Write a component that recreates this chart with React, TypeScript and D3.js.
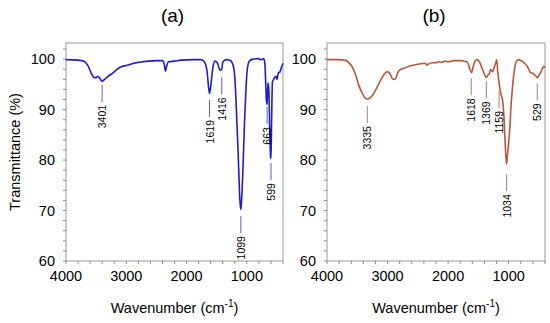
import React from 'react';
import * as d3 from 'd3';

// spectrum (a)
const waveA = [4000, 3800, 3700, 3640, 3580, 3540, 3500, 3470, 3440, 3401, 3360, 3300, 3220, 3140, 3060, 2980, 2880, 2780, 2640, 2500, 2400, 2370, 2350, 2330, 2300, 2200, 2100, 1900, 1760, 1700, 1660, 1635, 1619, 1600, 1570, 1530, 1490, 1460, 1440, 1416, 1400, 1340, 1280, 1230, 1200, 1170, 1140, 1115, 1099, 1085, 1065, 1040, 1015, 990, 960, 900, 820, 760, 720, 700, 685, 675, 663, 650, 635, 620, 605, 599, 590, 575, 545, 520, 500, 480, 450, 420, 400];
const transA = [99.9, 99.8, 99.6, 98.8, 97.2, 96.4, 96.3, 96.6, 96.2, 95.6, 96.0, 96.6, 97.3, 98.1, 98.6, 98.8, 99.2, 99.4, 99.6, 99.7, 99.7, 99.0, 97.6, 98.6, 99.5, 99.6, 99.8, 99.9, 99.9, 99.4, 97.6, 94.5, 93.2, 94.5, 97.8, 99.6, 99.3, 98.2, 97.8, 98.0, 99.4, 99.9, 99.8, 98.9, 96.5, 89, 80, 72, 70.2, 72.5, 78, 87, 94, 98.2, 99.6, 100.0, 100.1, 99.9, 100.1, 99.0, 94.5, 91.8, 91.0, 95.3, 94.0, 86, 80.5, 80.3, 87, 95.5, 96.2, 96.6, 96.0, 97.2, 97.5, 98.6, 99.2];

// spectrum (b)
const waveB = [4000, 3800, 3700, 3640, 3590, 3530, 3480, 3420, 3370, 3335, 3290, 3240, 3200, 3150, 3093, 3040, 3010, 2980, 2950, 2920, 2890, 2860, 2830, 2780, 2706, 2620, 2540, 2450, 2375, 2350, 2330, 2260, 2200, 2154, 2100, 2050, 2000, 1900, 1800, 1730, 1683, 1650, 1628, 1612, 1590, 1550, 1517, 1480, 1440, 1407, 1380, 1362, 1340, 1323, 1296, 1268, 1240, 1215, 1197, 1180, 1165, 1150, 1120, 1100, 1080, 1060, 1045, 1034, 1020, 1000, 980, 960, 940, 920, 900, 870, 832, 800, 777, 740, 700, 660, 638, 600, 583, 555, 529, 500, 473, 440, 418, 400];
const transB = [99.9, 99.9, 99.8, 99.3, 98.6, 97.0, 95.0, 93.3, 92.3, 92.1, 92.3, 93.0, 93.8, 95.0, 96.3, 97.2, 97.5, 97.4, 96.9, 96.1, 96.0, 96.3, 97.4, 98.0, 98.3, 98.7, 98.9, 99.1, 99.2, 98.8, 99.0, 99.3, 99.3, 99.5, 99.4, 99.6, 99.5, 99.7, 99.7, 99.6, 99.4, 98.4, 97.6, 97.3, 98.3, 99.7, 99.9, 99.4, 98.2, 97.2, 96.5, 96.4, 96.9, 97.0, 98.0, 97.5, 98.3, 99.2, 99.9, 97.5, 96.0, 94.5, 92.8, 91.8, 89, 84, 80.5, 79.2, 81, 83.5, 86.5, 91, 94, 96.5, 98.3, 99.6, 99.9, 99.7, 99.6, 99.2, 98.7, 97.8, 97.3, 97.2, 97.0, 96.7, 96.3, 96.8, 97.3, 98.2, 98.6, 98.3];

// peak annotations: wavenumber, label, transmittance where the marker line starts
const peaksA = [3401, 1619, 1416, 1099, 663, 599];
const peakTopA = [94.9, 91.9, 96.4, 68.9, 90.5, 79.4];
const peaksB = [3335, 1618, 1369, 1159, 1034, 529];
const peakTopB = [90.7, 96.2, 95.6, 93.7, 77.2, 95.2];

const yTicks = [60, 70, 80, 90, 100];
const xTicks = [4000, 3000, 2000, 1000];

const FONT = "'Liberation Sans', Arial, sans-serif";
const top = 43, bottom = 261;

function Panel({ x0, x1, title, waves, trans, peaks, peakTop, color, markColor }) {
  const x = d3.scaleLinear().domain([4000, 400]).range([x0, x1]);
  const y = d3.scaleLinear().domain([60, 103.2]).range([bottom, top]);
  const line = d3.line<number>()
    .x((d, i) => x(waves[i]))
    .y(d => y(d))
    .curve(d3.curveMonotoneX);
  const yMinor = d3.range(60, 103, 2);
  const xMinor = d3.range(4000, 399, -200);
  const cx = (x0 + x1) / 2;

  return (
    <g>
      <text x={cx - 2} y={22} fontSize={19} textAnchor="middle" fontFamily={FONT}>{title}</text>
      <rect x={x0} y={top} width={x1 - x0} height={bottom - top} fill="none" stroke="#9a9a9a" strokeWidth={1} />
      {yMinor.map(t => (
        <line key={'ym' + t} x1={x0 - 3} x2={x0} y1={y(t)} y2={y(t)} stroke="#8a8a8a" />
      ))}
      {xMinor.map(t => (
        <line key={'xm' + t} x1={x(t)} x2={x(t)} y1={bottom} y2={bottom + 3} stroke="#8a8a8a" />
      ))}
      {yTicks.map(t => (
        <text key={'yl' + t} x={x0 - 11} y={y(t)} dy="0.36em" fontSize={14.5} textAnchor="end" fontFamily={FONT}>{t}</text>
      ))}
      {xTicks.map(t => (
        <text key={'xl' + t} x={x(t)} y={281} fontSize={14.5} textAnchor="middle" fontFamily={FONT}>{t}</text>
      ))}
      <text x={cx} y={313} fontSize={14.5} textAnchor="middle" fontFamily={FONT}>
        Wavenumber (cm<tspan dy={-6} fontSize={10}>-1</tspan><tspan dy={6}>)</tspan>
      </text>
      <path d={line(trans) || ''} fill="none" stroke={color} strokeWidth={1.6} strokeLinejoin="round" />
      {peaks.map((p, i) => {
        const py = y(peakTop[i]);
        return (
          <g key={'pk' + p}>
            <line x1={x(p)} x2={x(p)} y1={py} y2={py + 17} stroke={markColor} strokeWidth={1} />
            <text x={x(p)} y={py + 20} fontSize={10.5} textAnchor="end" dominantBaseline="central"
              fontFamily={FONT} transform={`rotate(-90, ${x(p)}, ${py + 20})`}>{p}</text>
          </g>
        );
      })}
    </g>
  );
}

export default function App() {
  return (
    <svg width={550} height={323} style={{ display: 'block', position: 'absolute', left: 0, top: 0 }}>
      <rect width={550} height={323} fill="#fff" />
      <text x={15} y={152} fontSize={14.5} textAnchor="middle" dominantBaseline="central" fontFamily={FONT}
        transform="rotate(-90, 15, 152)">Transmittance (%)</text>
      <Panel x0={66} x1={283} title="(a)" waves={waveA} trans={transA} peaks={peaksA} peakTop={peakTopA}
        color="#1d1dd2" markColor="#5a5ad6" />
      <Panel x0={327} x1={545} title="(b)" waves={waveB} trans={transB} peaks={peaksB} peakTop={peakTopB}
        color="#b5583c" markColor="#b07a68" />
    </svg>
  );
}
